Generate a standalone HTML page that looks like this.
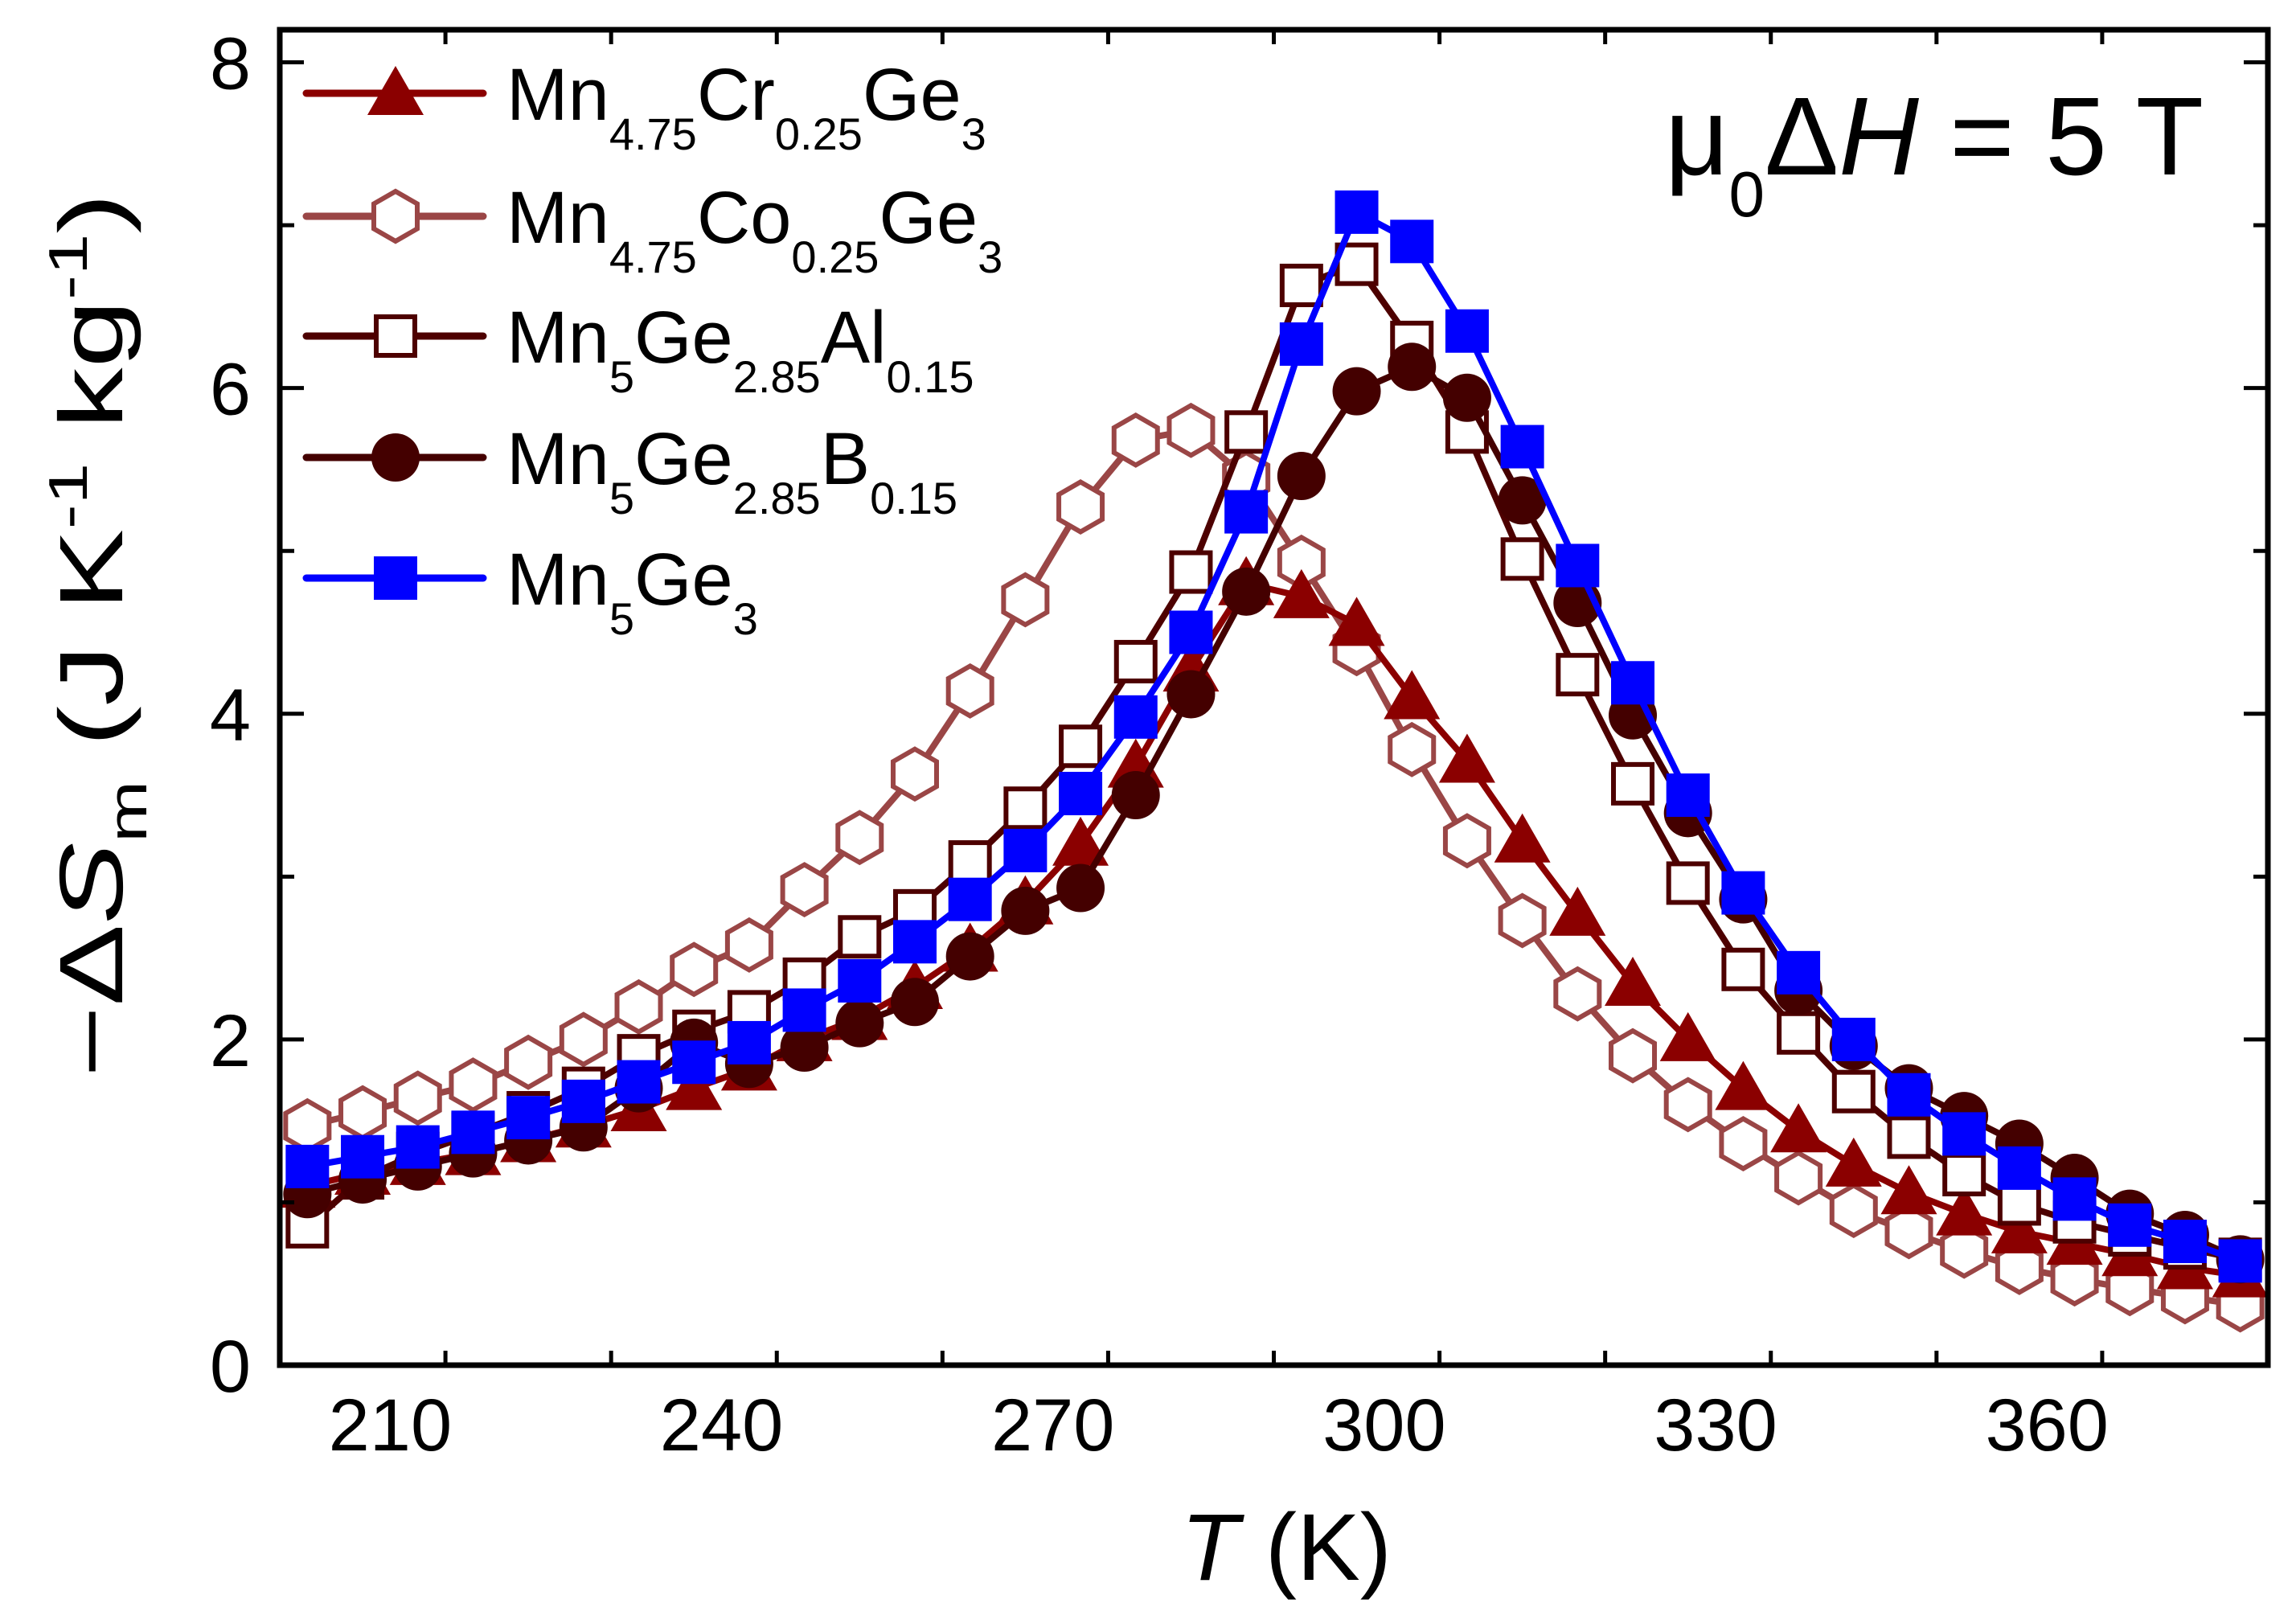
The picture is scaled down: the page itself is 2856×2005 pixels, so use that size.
<!DOCTYPE html>
<html><head><meta charset="utf-8"><style>
html,body{margin:0;padding:0;background:#fff;}
svg{display:block;font-family:"Liberation Sans",Arial,sans-serif;}
</style></head><body>
<svg id="chart" width="2856" height="2005" viewBox="0 0 2856 2005" xmlns="http://www.w3.org/2000/svg">
<rect width="2856" height="2005" fill="#fff"/>
<g id="series"></g>
<g id="axes"></g>
<g id="legend">
 <text x="630" y="149" font-size="92">Mn<tspan font-size="56" dy="37">4.75</tspan><tspan dy="-37">Cr</tspan><tspan font-size="56" dy="37">0.25</tspan><tspan dy="-37">Ge</tspan><tspan font-size="56" dy="37">3</tspan></text>
 <text x="630" y="302" font-size="92">Mn<tspan font-size="56" dy="37">4.75</tspan><tspan dy="-37">Co</tspan><tspan font-size="56" dy="37">0.25</tspan><tspan dy="-37">Ge</tspan><tspan font-size="56" dy="37">3</tspan></text>
 <text x="630" y="451" font-size="92">Mn<tspan font-size="56" dy="37">5</tspan><tspan dy="-37">Ge</tspan><tspan font-size="56" dy="37">2.85</tspan><tspan dy="-37">Al</tspan><tspan font-size="56" dy="37">0.15</tspan></text>
 <text x="630" y="602" font-size="92">Mn<tspan font-size="56" dy="37">5</tspan><tspan dy="-37">Ge</tspan><tspan font-size="56" dy="37">2.85</tspan><tspan dy="-37">B</tspan><tspan font-size="56" dy="37">0.15</tspan></text>
 <text x="630" y="752" font-size="92">Mn<tspan font-size="56" dy="37">5</tspan><tspan dy="-37">Ge</tspan><tspan font-size="56" dy="37">3</tspan></text>
</g>
<text x="2071" y="217" font-size="138">μ<tspan font-size="80" dy="52">0</tspan><tspan dy="-52">Δ</tspan><tspan font-style="italic">H</tspan> = 5 T</text>
<text x="1600" y="1965" font-size="118" text-anchor="middle"><tspan font-style="italic">T</tspan> (K)</text>
<text transform="translate(152,790) rotate(-90)" font-size="112" text-anchor="middle" textLength="1100" lengthAdjust="spacingAndGlyphs">−Δ<tspan font-style="italic">S</tspan><tspan font-size="68" dy="30">m</tspan><tspan dy="-30"> (J K</tspan><tspan font-size="68" dy="-44">-1</tspan><tspan dy="44"> kg</tspan><tspan font-size="68" dy="-44">-1</tspan><tspan dy="44">)</tspan></text>
</svg>
<script>
const temps = [202.5,207.5,212.5,217.5,222.5,227.5,232.5,237.5,242.5,247.5,252.5,257.5,262.5,267.5,272.5,277.5,282.5,287.5,292.5,297.5,302.5,307.5,312.5,317.5,322.5,327.5,332.5,337.5,342.5,347.5,352.5,357.5,362.5,367.5,372.5,377.5];
const crValues = [1.1,1.18,1.24,1.3,1.38,1.47,1.57,1.7,1.82,2.0,2.13,2.32,2.55,2.84,3.2,3.68,4.27,4.8,4.72,4.55,4.1,3.71,3.22,2.77,2.34,2.0,1.7,1.44,1.23,1.06,0.93,0.82,0.75,0.68,0.6,0.55];
const coValues = [1.47,1.55,1.64,1.72,1.86,2.0,2.2,2.43,2.58,2.92,3.24,3.63,4.14,4.7,5.27,5.68,5.74,5.45,4.93,4.4,3.78,3.22,2.73,2.28,1.9,1.6,1.36,1.15,0.95,0.82,0.7,0.6,0.53,0.47,0.42,0.37];
const alValues = [0.85,1.15,1.3,1.42,1.55,1.7,1.9,2.05,2.17,2.37,2.63,2.79,3.09,3.42,3.8,4.32,4.87,5.73,6.63,6.76,6.28,5.73,4.95,4.24,3.57,2.96,2.43,2.04,1.68,1.4,1.17,0.99,0.88,0.8,0.72,0.65];
const bValues = [1.05,1.14,1.22,1.3,1.38,1.46,1.7,1.98,1.85,1.95,2.1,2.23,2.51,2.79,2.93,3.5,4.12,4.75,5.46,5.98,6.13,5.94,5.31,4.68,3.99,3.39,2.86,2.3,1.96,1.7,1.53,1.36,1.15,0.93,0.8,0.65];
const mn5ge3Values = [1.22,1.28,1.34,1.43,1.52,1.62,1.74,1.86,1.98,2.18,2.36,2.6,2.86,3.16,3.51,3.98,4.5,5.24,6.27,7.08,6.9,6.35,5.64,4.91,4.19,3.5,2.9,2.41,2.0,1.66,1.42,1.21,1.02,0.86,0.76,0.64];
const xTicks = [210,240,270,300,330,360];
const yTicks = [0,2,4,6,8];

const NS = "http://www.w3.org/2000/svg";
const X0=348, X1=2821, Y0=1698, YTOP=37;
const xMin=200, xMax=380, yMin=0, yMax=8.2;
function xs(v){return X0+(v-xMin)/(xMax-xMin)*(X1-X0);}
function ys(v){return Y0-(v-yMin)/(yMax-yMin)*(Y0-YTOP);}
function mk(tag, attrs, parent){const e=document.createElementNS(NS,tag);for(const k in attrs)e.setAttribute(k,attrs[k]);parent.appendChild(e);return e;}

function marker(shape, cx, cy, col, parent){
  let e;
  if(shape==='tri'){
    e=mk('polygon',{points:`${cx},${cy-34} ${cx-35},${cy+27} ${cx+35},${cy+27}`,fill:col},parent);
  } else if(shape==='hex'){
    const r=31, w=27;
    e=mk('polygon',{points:`${cx},${cy-r} ${cx+w},${cy-r/2} ${cx+w},${cy+r/2} ${cx},${cy+r} ${cx-w},${cy+r/2} ${cx-w},${cy-r/2}`,fill:'#fff',stroke:col,'stroke-width':6},parent);
  } else if(shape==='osq'){
    e=mk('rect',{x:cx-24,y:cy-24,width:48,height:48,fill:'#fff',stroke:col,'stroke-width':6},parent);
  } else if(shape==='circ'){
    e=mk('circle',{cx:cx,cy:cy,r:30,fill:col},parent);
  } else {
    e=mk('rect',{x:cx-27,y:cy-27,width:54,height:54,fill:col},parent);
  }
  return e;
}

const seriesDefs = [
  {name:'co', vals:coValues, col:'#9a4646', shape:'hex', ly:269},
  {name:'cr', vals:crValues, col:'#8b0000', shape:'tri', ly:116},
  {name:'al', vals:alValues, col:'#4d0000', shape:'osq', ly:418},
  {name:'b', vals:bValues, col:'#440000', shape:'circ', ly:569},
  {name:'mn5ge3', vals:mn5ge3Values, col:'#0000ff', shape:'fsq', ly:719}
];
const sg=document.getElementById('series');
const lg=document.getElementById('legend');
seriesDefs.forEach(s=>{
  const g=mk('g',{},sg);
  
  
  const pts=temps.map((t,i)=>xs(t)+','+ys(s.vals[i])).join(' ');
  const line=mk('polyline',{points:pts,fill:'none',stroke:s.col,'stroke-width':8,'stroke-linejoin':'round'},g);
  
  
  temps.forEach((t,i)=>{
    const m=marker(s.shape,xs(t),ys(s.vals[i]),s.col,g);
    
    
  });
  const ll=mk('line',{x1:381,x2:601,y1:s.ly,y2:s.ly,stroke:s.col,'stroke-width':9,'stroke-linecap':'round'},lg);
  
  
  const lm=marker(s.shape,492,s.ly,s.col,lg);
  
  
});

const ax=document.getElementById('axes');
const frame=mk('rect',{x:X0,y:YTOP,width:X1-X0,height:Y0-YTOP,fill:'none',stroke:'#000','stroke-width':7},ax);


for(let v=xMin+15; v<xMax; v+=15){
  const major = xTicks.includes(v);
  const L = major?30:18;
  mk('line',{x1:xs(v),x2:xs(v),y1:Y0,y2:Y0-L,stroke:'#000','stroke-width':5},ax);
  mk('line',{x1:xs(v),x2:xs(v),y1:YTOP,y2:YTOP+L,stroke:'#000','stroke-width':5},ax);
}
xTicks.forEach(v=>{
  const t=mk('text',{x:xs(v),y:1804,'font-size':92,'text-anchor':'middle'},ax);
  t.textContent=v;
  
  
});
for(let v=1; v<8.2; v+=1){
  const major = yTicks.includes(v);
  const L = major?30:18;
  mk('line',{x1:X0,x2:X0+L,y1:ys(v),y2:ys(v),stroke:'#000','stroke-width':5},ax);
  mk('line',{x1:X1,x2:X1-L,y1:ys(v),y2:ys(v),stroke:'#000','stroke-width':5},ax);
}
yTicks.forEach(v=>{
  const t=mk('text',{x:312,y:ys(v)+33,'font-size':92,'text-anchor':'end'},ax);
  t.textContent=v;
  
  
});
</script>
</body></html>
